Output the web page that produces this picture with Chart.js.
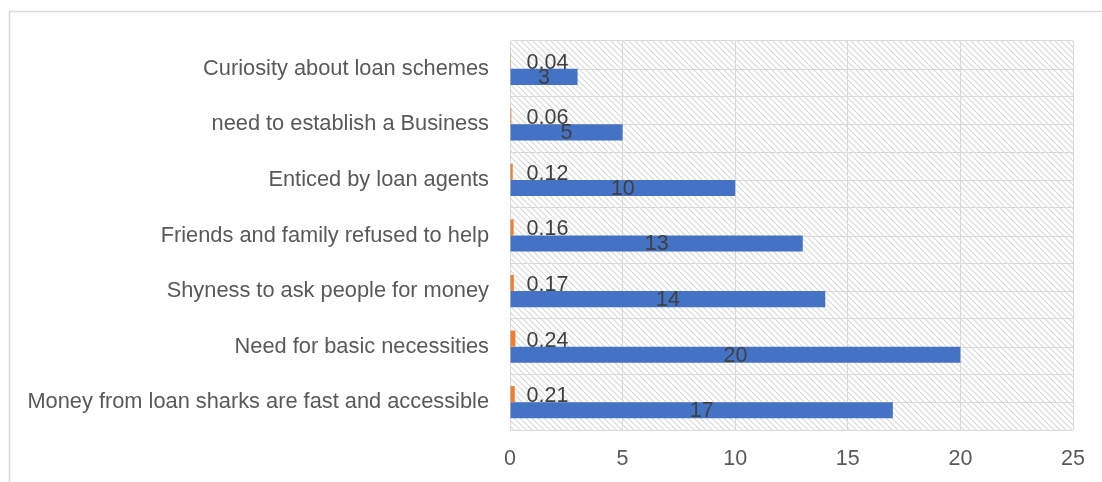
<!DOCTYPE html>
<html>
<head>
<meta charset="utf-8">
<script src="https://cdn.jsdelivr.net/npm/chart.js@4/dist/chart.umd.min.js"></script>
<style>
html,body{margin:0;padding:0;background:#fff;}
#wrap{position:relative;width:1102px;height:482px;}
</style>
</head>
<body>
<div id="wrap"><canvas id="c" width="1102" height="482"></canvas></div>
<script>
const categories = [
  "Curiosity about loan schemes",
  "need to establish a Business",
  "Enticed by loan agents",
  "Friends and family refused to help",
  "Shyness to ask people for money",
  "Need for basic necessities",
  "Money from loan sharks are fast and accessible"
];
const shareValues = [0.04, 0.06, 0.12, 0.16, 0.17, 0.24, 0.21];
const countValues = [3, 5, 10, 13, 14, 20, 17];
const xTicks = [0, 5, 10, 15, 20, 25];

const FONT = "'Liberation Sans', Arial, sans-serif";
const GRID = "#d9d9d9";

function makePattern(ctx) {
  const t = document.createElement('canvas');
  t.width = 6; t.height = 6;
  const g = t.getContext('2d');
  g.fillStyle = '#ffffff';
  g.fillRect(0, 0, 6, 6);
  g.strokeStyle = '#d9d9d9';
  g.lineWidth = 1.2;
  g.beginPath();
  g.moveTo(-1, -1); g.lineTo(7, 7);
  g.moveTo(-7, -1); g.lineTo(1, 7);
  g.moveTo(5, -1); g.lineTo(13, 7);
  g.stroke();
  return ctx.createPattern(t, 'repeat');
}

const bgPlugin = {
  id: 'bg',
  beforeDraw(chart) {
    const ctx = chart.ctx;
    const a = chart.chartArea;
    ctx.save();
    ctx.fillStyle = '#fff';
    ctx.fillRect(0, 0, chart.width, chart.height);
    ctx.strokeStyle = GRID;
    ctx.lineWidth = 1.5;
    ctx.strokeRect(9.5, 11.5, 1200, 600);
    ctx.fillStyle = makePattern(ctx);
    ctx.fillRect(a.left, a.top, a.right - a.left, a.bottom - a.top);
    ctx.restore();
  },
  beforeDatasetsDraw(chart) {
    const ctx = chart.ctx;
    const a = chart.chartArea;
    const y = chart.scales.y;
    ctx.save();
    ctx.strokeStyle = GRID;
    ctx.lineWidth = 1;
    categories.forEach((c, i) => {
      const py = Math.round(y.getPixelForValue(i)) + 0.5;
      ctx.beginPath();
      ctx.moveTo(a.left, py);
      ctx.lineTo(a.right, py);
      ctx.stroke();
    });
    ctx.restore();
  }
};

const labelPlugin = {
  id: 'labels',
  afterDatasetsDraw(chart) {
    const ctx = chart.ctx;
    ctx.save();
    ctx.font = "21.5px " + FONT;
    ctx.fillStyle = '#404040';
    ctx.textBaseline = 'middle';
    chart.getDatasetMeta(0).data.forEach((el, i) => {
      ctx.textAlign = 'left';
      ctx.fillText(String(shareValues[i]), el.base + 16, el.y + 2);
    });
    chart.getDatasetMeta(1).data.forEach((el, i) => {
      ctx.textAlign = 'center';
      ctx.fillText(String(countValues[i]), (el.x + el.base) / 2, el.y + 1);
    });
    ctx.restore();
  }
};

new Chart(document.getElementById('c'), {
  type: 'bar',
  data: {
    labels: categories,
    datasets: [
      { label: 'Share', data: shareValues, backgroundColor: '#ED7D31', barPercentage: 1, categoryPercentage: 0.58 },
      { label: 'Count', data: countValues, backgroundColor: '#4472C4', barPercentage: 1, categoryPercentage: 0.58 }
    ]
  },
  options: {
    indexAxis: 'y',
    responsive: false,
    animation: false,
    devicePixelRatio: 1,
    layout: { padding: { top: 41, right: 29, left: 0, bottom: 0 } },
    plugins: { legend: { display: false }, tooltip: { enabled: false } },
    scales: {
      x: {
        min: 0, max: 25,
        afterBuildTicks(s) { s.ticks = xTicks.map(v => ({ value: v })); },
        afterFit(s) { s.height = 52; },
        grid: { color: GRID, drawTicks: false, lineWidth: 1 },
        border: { display: false },
        ticks: { font: { family: FONT, size: 21.5 }, color: '#595959', padding: 16 }
      },
      y: {
        afterFit(s) { s.width = 510; },
        grid: { color: GRID, drawTicks: false, offset: true, lineWidth: 1 },
        border: { color: GRID },
        ticks: { font: { family: FONT, size: 21.8 }, color: '#595959', padding: 21 }
      }
    }
  },
  plugins: [bgPlugin, labelPlugin]
});
</script>
</body>
</html>
